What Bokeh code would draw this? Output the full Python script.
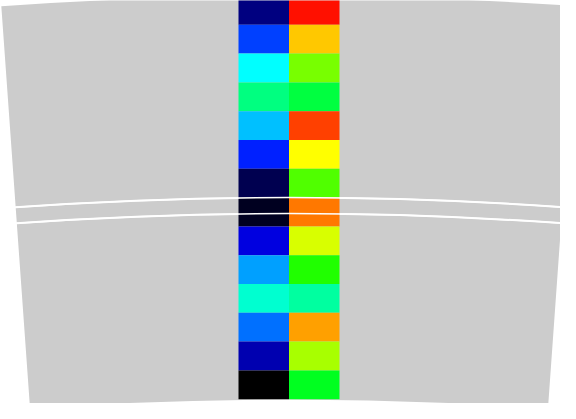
import numpy as np
from bokeh.plotting import figure
from bokeh.models import Range1d, ColumnDataSource
from bokeh.embed import file_html
from bokeh.resources import INLINE

# ---- data ----
rows = list(range(14))
left_colors = ["#000080", "#0040FF", "#00FFFF", "#00FF80", "#00C0FF", "#0020FF", "#000050",
               "#000020", "#0000E0", "#00A0FF", "#00FFD0", "#0070FF", "#0000B0", "#000000"]
right_colors = ["#FF1000", "#FFC800", "#78FF00", "#00FF40", "#FF4000", "#FFFF00", "#50FF00",
                "#FF7800", "#D8FF00", "#20FF00", "#00FFA0", "#FFA000", "#A8FF00", "#00FF20"]
band_outer = [4038.5, 3836.0, 3820.0]
band_inner = [3838.0, 3822.0, 3635.0]
gap_radii = [3837.0, 3821.0]

# ---- geometry (reference pixel units) ----
cx, cy = 296.5, -4042.0
half_angle = np.deg2rad(4.085)
row_h = 28.8
top0 = 3.5
col_w = 50.5

p = figure(width=560, height=403, output_backend="svg", toolbar_location=None,
           x_axis_type=None, y_axis_type=None, min_border=0,
           x_range=Range1d(8, 568), y_range=Range1d(-411, -8))
p.outline_line_color = None
p.grid.visible = False
p.background_fill_color = "white"
p.border_fill_color = "white"

wsrc = ColumnDataSource(dict(inner=band_inner, outer=band_outer))
p.annular_wedge(x=cx, y=cy, inner_radius="inner", outer_radius="outer", source=wsrc,
                start_angle=np.pi / 2 - half_angle, end_angle=np.pi / 2 + half_angle,
                fill_color="#cccccc", line_color=None)

r = np.array(rows)
tops = -(top0 + row_h * r)
bots = tops - row_h
lsrc = ColumnDataSource(dict(top=tops, bottom=bots, color=left_colors))
rsrc = ColumnDataSource(dict(top=tops, bottom=bots, color=right_colors))
p.quad(left=cx - col_w, right=cx, top="top", bottom="bottom", fill_color="color",
       line_color=None, source=lsrc)
p.quad(left=cx, right=cx + col_w, top="top", bottom="bottom", fill_color="color",
       line_color=None, source=rsrc)

asrc = ColumnDataSource(dict(radius=gap_radii))
p.arc(x=cx, y=cy, radius="radius", source=asrc,
      start_angle=np.pi / 2 - half_angle, end_angle=np.pi / 2 + half_angle,
      line_color="white", line_width=1.5)

open("out.html", "w").write(file_html(p, INLINE))
